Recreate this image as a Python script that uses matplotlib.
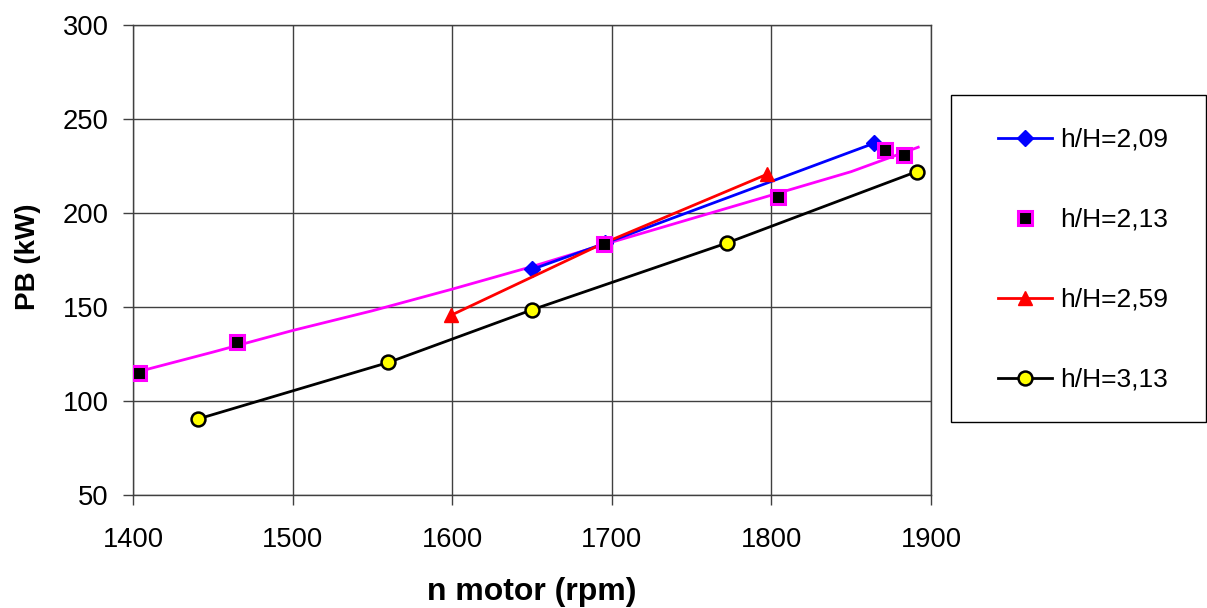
import numpy as np
import matplotlib
matplotlib.use("Agg")
import matplotlib.pyplot as plt
from matplotlib.patches import Rectangle

plt.rcParams["font.family"] = ["Liberation Sans", "DejaVu Sans"]

# h/H = 2,09
n_209 = [1650, 1696, 1864]
pb_209 = [170, 184, 237]

# h/H = 2,13 (points only, plus a trend line)
n_213 = [1404, 1465, 1695, 1804, 1871, 1883]
pb_213 = [115, 131.5, 183.5, 208.5, 233.5, 231]
trend_n_213 = [1405, 1450, 1500, 1550, 1600, 1650, 1700, 1750, 1800, 1850, 1892]
trend_pb_213 = [116, 126, 137.5, 148, 159.5, 171.5, 184.5, 197, 209.5, 222, 235]

# h/H = 2,59
n_259 = [1599, 1695, 1797]
pb_259 = [145.5, 184, 220.5]

# h/H = 3,13
n_313 = [1441, 1560, 1650, 1772, 1891]
pb_313 = [90.5, 120.5, 148.5, 184, 222]

x_ticks = [1400, 1500, 1600, 1700, 1800, 1900]
y_ticks = [50, 100, 150, 200, 250, 300]

W, H = 1207, 608
fig = plt.figure(figsize=(W / 100, H / 100), dpi=100)
ax = fig.add_axes([133 / W, 1 - 495 / H, 798 / W, 470 / H])

lw = 2.0
ax.plot(n_209, pb_209, color="#0000ff", lw=lw, marker="D", ms=8,
        mec="#0000ff", mfc="#0000ff", label="h/H=2,09", zorder=3)
ax.plot(trend_n_213, trend_pb_213, color="#ff00ff", lw=lw, zorder=2)
ax.plot(n_213, pb_213, ls="none", marker="s", ms=10, mec="#ff00ff",
        mew=2.2, mfc="black", label="h/H=2,13", zorder=4)
ax.plot(n_259, pb_259, color="#ff0000", lw=lw, marker="^", ms=10,
        mec="#ff0000", mfc="#ff0000", label="h/H=2,59", zorder=3)
ax.plot(n_313, pb_313, color="black", lw=lw, marker="o", ms=10,
        mec="black", mew=1.8, mfc="#ffff00", label="h/H=3,13", zorder=3)

ax.set_xlim(1400, 1900)
ax.set_ylim(50, 300)
ax.set_xticks(x_ticks)
ax.set_yticks(y_ticks)
ax.grid(True, color="#404040", lw=1.0)
ax.set_axisbelow(True)
for s in ax.spines.values():
    s.set_color("#404040")
    s.set_linewidth(1.0)
ax.tick_params(direction="out", length=7, width=1.0, color="#404040",
               labelsize=19.7)
ax.tick_params(axis="y", pad=10.5)
ax.tick_params(axis="x", pad=16)

# axis titles
fig.text(532 / W, 1 - 592 / H, "n motor (rpm)", fontsize=23,
         fontweight="bold", ha="center", va="center")
fig.text(28 / W, 1 - 257 / H, "PB (kW)", fontsize=20, fontweight="bold",
         rotation=90, ha="center", va="center")

# legend with a separately drawn frame
fig.patches.append(Rectangle((951 / W, 1 - 422 / H), 255 / W, 327 / H,
                             transform=fig.transFigure, fill=False,
                             edgecolor="black", lw=1.0))
fig.legend(loc="upper left", bbox_to_anchor=(998 / W, 1 - 128 / H),
           fontsize=19, frameon=False, handlelength=2.05,
           handletextpad=0.3, labelspacing=2.12, borderpad=0,
           borderaxespad=0)

fig.savefig("out.png", dpi=100)
